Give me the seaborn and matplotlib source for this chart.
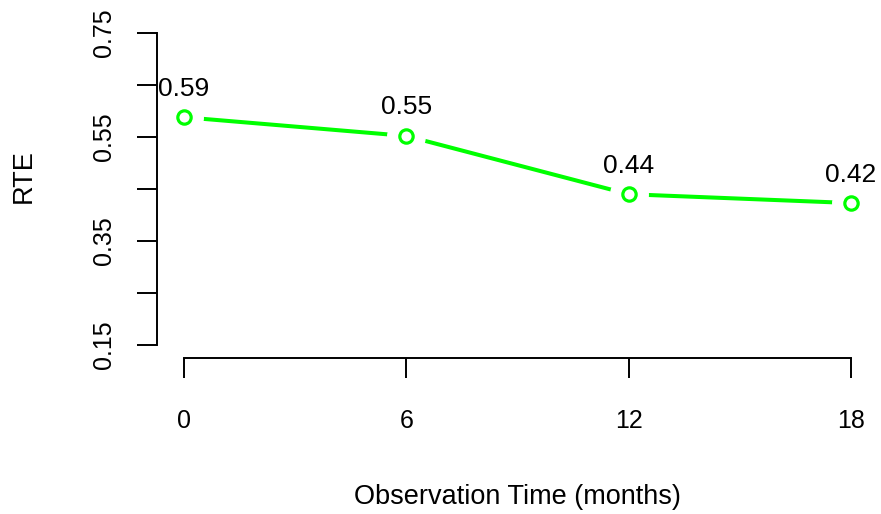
import matplotlib
matplotlib.use("Agg")
import matplotlib.pyplot as plt
import seaborn as sns
import pandas as pd

months = [0, 6, 12, 18]
rte = [0.588, 0.552, 0.440, 0.423]
labels = ["0.59", "0.55", "0.44", "0.42"]
yticks = [0.15, 0.25, 0.35, 0.45, 0.55, 0.65, 0.75]
ytick_labels = ["0.15", "", "0.35", "", "0.55", "", "0.75"]

sns.set_theme(style="white")
plt.rcParams['font.family'] = ['Liberation Sans', 'DejaVu Sans']

df = pd.DataFrame({"month": months, "rte": rte})

fig = plt.figure(figsize=(8.81, 5.14), dpi=100)
W, H = 881, 514
ax = fig.add_axes([157.3 / W, 1 - 357.5 / H, (877.7 - 157.3) / W, (357.5 - 20.5) / H])

green = "#00FF00"
sns.lineplot(data=df, x="month", y="rte", ax=ax, color=green, linewidth=2.9, zorder=1)
ax.plot(df["month"], df["rte"], linestyle="none", marker="o", markersize=27,
        markerfacecolor="white", markeredgecolor="white", zorder=2)
ax.plot(df["month"], df["rte"], linestyle="none", marker="o", markersize=9.6,
        markerfacecolor="white", markeredgecolor=green, markeredgewidth=2.3, zorder=3)

for x, y, t in zip(months, rte, labels):
    ax.annotate(t, (x, y), xytext=(0, 20.5), textcoords="offset points",
                ha="center", va="center", fontsize=19, color="black")

ax.set_xlim(-0.72, 18.72)
ax.set_ylim(0.126, 0.774)
ax.set_xticks(months)
ax.set_xticklabels([str(m) for m in months])
ax.set_yticks(yticks)
ax.set_yticklabels(ytick_labels, rotation=90, va="center")

for s in ["top", "right"]:
    ax.spines[s].set_visible(False)
for s in ["left", "bottom"]:
    ax.spines[s].set_color("black")
    ax.spines[s].set_linewidth(1.4)
ax.spines["left"].set_bounds(0.15, 0.75)
ax.spines["bottom"].set_bounds(0, 18)

ax.tick_params(axis="both", which="major", length=14.4, width=1.4, color="black",
               labelsize=18, labelcolor="black", direction="out",
               bottom=True, left=True)
ax.tick_params(axis="x", pad=23)
ax.tick_params(axis="y", pad=15)
ax.set_xlabel("Observation Time (months)", fontsize=19.5, color="black")
ax.set_ylabel("RTE", fontsize=19.5, color="black")
ax.xaxis.set_label_coords((517 - 157.3) / (877.7 - 157.3), -(497 - 357.5) / (357.5 - 20.5))
ax.xaxis.label.set_va("center")
ax.yaxis.set_label_coords(-(157.3 - 24) / (877.7 - 157.3), (357.5 - 176) / (357.5 - 20.5))
ax.yaxis.label.set_va("center")
ax.grid(False)

fig.savefig("out.png", dpi=100, facecolor="white")
